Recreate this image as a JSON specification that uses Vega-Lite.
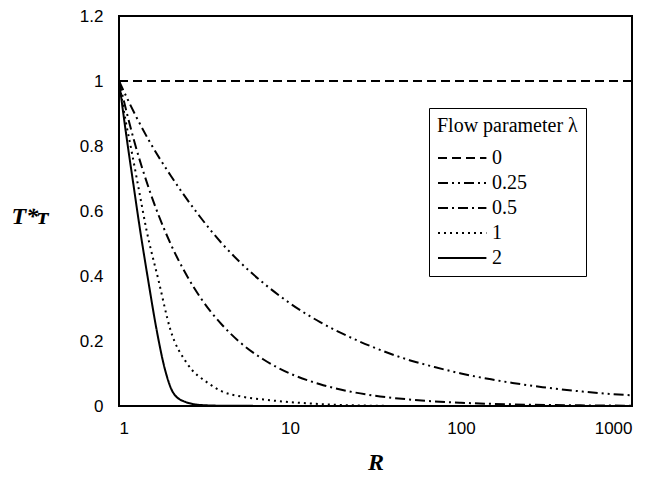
{
  "$schema": "https://vega.github.io/schema/vega-lite/v6.json",
  "width": 513,
  "height": 390,
  "autosize": {"type": "none"},
  "padding": {"left": 119, "top": 16, "right": 23, "bottom": 80},
  "background": "white",
  "config": {
    "view": {"stroke": "black", "strokeWidth": 2},
    "axis": {"grid": false, "domain": false, "ticks": false, "labelFont": "Liberation Sans", "labelFontSize": 17, "labelColor": "black", "titleColor": "black"}
  },
  "data": {"values": [
    {"lambda": "0", "R": 1, "T": 1},
    {"lambda": "0", "R": 1000, "T": 1},

    {"lambda": "0.25", "R": 1, "T": 1},
    {"lambda": "0.25", "R": 1.25, "T": 0.894},
    {"lambda": "0.25", "R": 1.5, "T": 0.816},
    {"lambda": "0.25", "R": 2, "T": 0.71},
    {"lambda": "0.25", "R": 3, "T": 0.58},
    {"lambda": "0.25", "R": 4, "T": 0.5},
    {"lambda": "0.25", "R": 5, "T": 0.447},
    {"lambda": "0.25", "R": 7, "T": 0.378},
    {"lambda": "0.25", "R": 10, "T": 0.316},
    {"lambda": "0.25", "R": 15, "T": 0.258},
    {"lambda": "0.25", "R": 20, "T": 0.224},
    {"lambda": "0.25", "R": 30, "T": 0.183},
    {"lambda": "0.25", "R": 50, "T": 0.141},
    {"lambda": "0.25", "R": 70, "T": 0.12},
    {"lambda": "0.25", "R": 100, "T": 0.1},
    {"lambda": "0.25", "R": 150, "T": 0.082},
    {"lambda": "0.25", "R": 200, "T": 0.071},
    {"lambda": "0.25", "R": 300, "T": 0.058},
    {"lambda": "0.25", "R": 500, "T": 0.045},
    {"lambda": "0.25", "R": 700, "T": 0.038},
    {"lambda": "0.25", "R": 1000, "T": 0.033},

    {"lambda": "0.5", "R": 1, "T": 1},
    {"lambda": "0.5", "R": 1.25, "T": 0.8},
    {"lambda": "0.5", "R": 1.5, "T": 0.667},
    {"lambda": "0.5", "R": 2, "T": 0.5},
    {"lambda": "0.5", "R": 2.5, "T": 0.4},
    {"lambda": "0.5", "R": 3, "T": 0.333},
    {"lambda": "0.5", "R": 4, "T": 0.25},
    {"lambda": "0.5", "R": 5, "T": 0.2},
    {"lambda": "0.5", "R": 7, "T": 0.143},
    {"lambda": "0.5", "R": 10, "T": 0.1},
    {"lambda": "0.5", "R": 15, "T": 0.067},
    {"lambda": "0.5", "R": 20, "T": 0.05},
    {"lambda": "0.5", "R": 30, "T": 0.033},
    {"lambda": "0.5", "R": 50, "T": 0.02},
    {"lambda": "0.5", "R": 70, "T": 0.014},
    {"lambda": "0.5", "R": 100, "T": 0.01},
    {"lambda": "0.5", "R": 200, "T": 0.005},
    {"lambda": "0.5", "R": 500, "T": 0.002},
    {"lambda": "0.5", "R": 1000, "T": 0.001},

    {"lambda": "1", "R": 1, "T": 1},
    {"lambda": "1", "R": 1.1, "T": 0.87},
    {"lambda": "1", "R": 1.175, "T": 0.794},
    {"lambda": "1", "R": 1.3, "T": 0.672},
    {"lambda": "1", "R": 1.45, "T": 0.54},
    {"lambda": "1", "R": 1.7, "T": 0.388},
    {"lambda": "1", "R": 2, "T": 0.234},
    {"lambda": "1", "R": 2.5, "T": 0.131},
    {"lambda": "1", "R": 3.33, "T": 0.07},
    {"lambda": "1", "R": 4, "T": 0.045},
    {"lambda": "1", "R": 5.2, "T": 0.029},
    {"lambda": "1", "R": 7, "T": 0.02},
    {"lambda": "1", "R": 10, "T": 0.012},
    {"lambda": "1", "R": 15, "T": 0.006},
    {"lambda": "1", "R": 20, "T": 0.003},
    {"lambda": "1", "R": 30, "T": 0.001},
    {"lambda": "1", "R": 50, "T": 0},
    {"lambda": "1", "R": 100, "T": 0},
    {"lambda": "1", "R": 1000, "T": 0},

    {"lambda": "2", "R": 1, "T": 1},
    {"lambda": "2", "R": 1.13, "T": 0.794},
    {"lambda": "2", "R": 1.2, "T": 0.7},
    {"lambda": "2", "R": 1.33, "T": 0.54},
    {"lambda": "2", "R": 1.48, "T": 0.388},
    {"lambda": "2", "R": 1.66, "T": 0.234},
    {"lambda": "2", "R": 1.86, "T": 0.111},
    {"lambda": "2", "R": 2.08, "T": 0.04},
    {"lambda": "2", "R": 2.43, "T": 0.013},
    {"lambda": "2", "R": 3.04, "T": 0.003},
    {"lambda": "2", "R": 4, "T": 0.001},
    {"lambda": "2", "R": 5, "T": 0.001},
    {"lambda": "2", "R": 7, "T": 0},
    {"lambda": "2", "R": 1000, "T": 0}
  ]},
  "mark": {"type": "line", "color": "black", "strokeWidth": 2, "interpolate": "monotone"},
  "encoding": {
    "x": {
      "field": "R", "type": "quantitative",
      "scale": {"type": "log", "domain": [1, 1000]},
      "axis": {"values": [1, 10, 100, 1000], "format": "~g", "labelPadding": 14, "title": "R", "titleFont": "Liberation Serif", "titleFontSize": 24, "titleFontStyle": "italic", "titleFontWeight": "bold", "titlePadding": 14}
    },
    "y": {
      "field": "T", "type": "quantitative",
      "scale": {"domain": [0, 1.2]},
      "axis": {"values": [0, 0.2, 0.4, 0.6, 0.8, 1, 1.2], "format": "~g", "labelPadding": 16, "title": "T*ᴛ", "titleFont": "Liberation Serif", "titleFontSize": 24, "titleFontStyle": "italic", "titleFontWeight": "bold", "titleAngle": 0, "titleX": -90, "titleY": 200, "titleAlign": "center", "titleBaseline": "middle"}
    },
    "strokeDash": {
      "field": "lambda", "type": "nominal",
      "scale": {"domain": ["0", "0.25", "0.5", "1", "2"], "range": [[9, 5], [10, 4, 2, 4, 2, 4], [10, 4, 2, 4], [2, 4], [1, 0]]},
      "legend": {
        "title": "Flow parameter λ",
        "orient": "none", "legendX": 310, "legendY": 92,
        "strokeColor": "black", "fillColor": "white", "padding": 8,
        "titleFont": "Liberation Serif", "titleFontSize": 20, "titleFontWeight": "normal", "titleColor": "black", "titlePadding": 10,
        "labelFont": "Liberation Serif", "labelFontSize": 20, "labelColor": "black", "labelOffset": 31,
        "symbolType": "M-1,0H3.4", "symbolSize": 484, "symbolStrokeWidth": 2, "symbolStrokeColor": "black", "symbolFillColor": "transparent",
        "rowPadding": 3
      }
    }
  }
}
